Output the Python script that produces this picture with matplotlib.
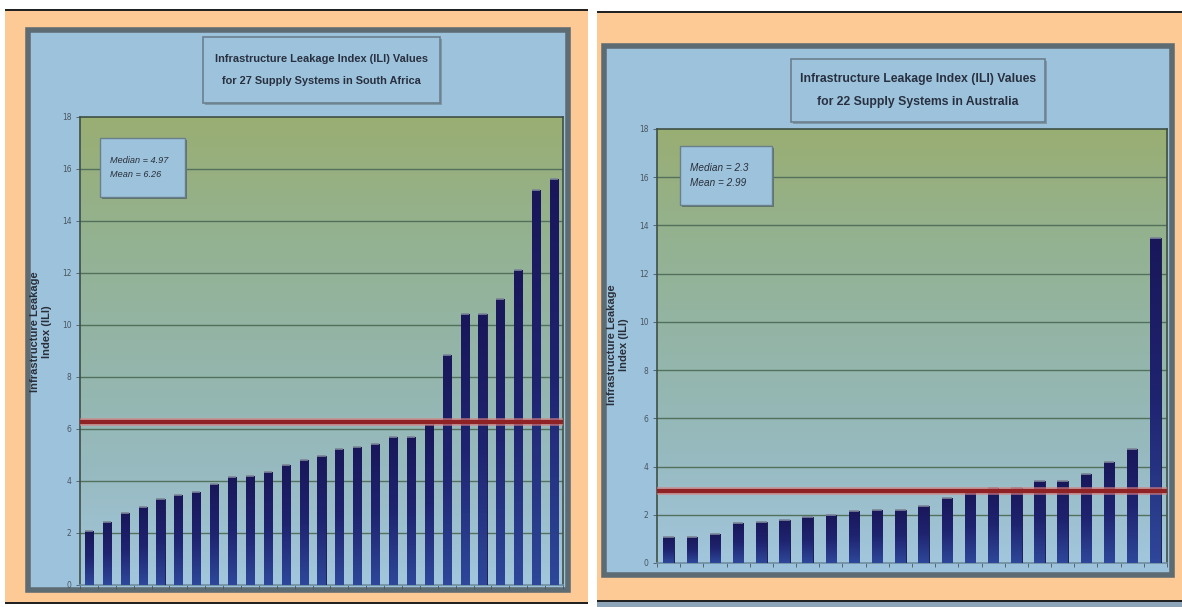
import numpy as np
import matplotlib
matplotlib.use('Agg')
import matplotlib.pyplot as plt
from matplotlib.patches import Rectangle
from matplotlib.colors import LinearSegmentedColormap

# ILI values, sorted, for each country
sa_ili = [2.09, 2.43, 2.76, 3.00, 3.32, 3.45, 3.56, 3.88, 4.15, 4.18, 4.33, 4.60, 4.81, 4.97,
          5.23, 5.32, 5.43, 5.70, 5.70, 6.20, 8.85, 10.41, 10.41, 11.01, 12.12, 15.19, 15.60]
au_ili = [1.06, 1.06, 1.20, 1.65, 1.68, 1.79, 1.90, 1.98, 2.17, 2.20, 2.20, 2.38, 2.69, 2.95,
          3.12, 3.12, 3.39, 3.40, 3.68, 4.17, 4.72, 13.50]
sa_median, sa_mean = 4.97, 6.26
au_median, au_mean = 2.3, 2.99
yticks = [0, 2, 4, 6, 8, 10, 12, 14, 16, 18]

W, H = 1182, 607
PEACH = '#fdc995'
SKY = '#9dc3dc'
FRAME = '#5d6b72'
FONT = ['Liberation Sans', 'DejaVu Sans']

fig = plt.figure(figsize=(W / 100, H / 100), dpi=100)
fig.patch.set_facecolor('white')

bg_cmap = LinearSegmentedColormap.from_list(
    'bg', [(0, '#a2c6dc'), (0.25, '#97bac0'), (0.5, '#93b5a8'), (0.75, '#94b290'), (1, '#9aae73')])
bar_cmap = LinearSegmentedColormap.from_list('bar', ['#2e4799', '#1f2470', '#19175a'])


def rect(x0, y0, x1, y1, **kw):
    # rectangle given in pixel coordinates (origin top left)
    r = Rectangle((x0 / W, 1 - y1 / H), (x1 - x0) / W, (y1 - y0) / H,
                  transform=fig.transFigure, **kw)
    fig.add_artist(r)
    return r


def ftext(x, y, s, **kw):
    fig.text(x / W, 1 - y / H, s, **kw)


def panel(px, frame, title_box, plot_box, stat_box, ylab_xy, values, median, mean, title,
          title_size, title_spacing, stat_size):
    # slide background
    rect(*px, facecolor=PEACH, edgecolor='none', zorder=0)
    # chart frame
    rect(*frame, facecolor=SKY, edgecolor=FRAME, lw=4, zorder=1)

    # title box with a small drop shadow
    x0, y0, x1, y1 = title_box
    rect(x0 + 2, y0 + 2, x1 + 2, y1 + 2, facecolor='#7f98a8', edgecolor='none', zorder=2)
    rect(x0, y0, x1, y1, facecolor=SKY, edgecolor='#6a7f8c', lw=1.2, zorder=3)
    ftext((x0 + x1) / 2, (y0 + y1) / 2, title, ha='center', va='center', fontsize=title_size,
          family=FONT, fontweight='bold', color='#283040', linespacing=title_spacing, zorder=4)

    # y axis title
    ftext(ylab_xy[0], ylab_xy[1], 'Infrastructure Leakage\nIndex (ILI)', rotation=90,
          ha='center', va='center', fontsize=8, fontweight='bold', family=FONT,
          color='#2a2f3a', linespacing=1.2, zorder=4)

    # plot area
    l, t, r, b = plot_box
    ax = fig.add_axes([l / W, 1 - b / H, (r - l) / W, (b - t) / H], zorder=5)
    n = len(values)
    x = np.arange(n)
    ax.imshow(np.linspace(0, 1, 256).reshape(-1, 1), cmap=bg_cmap, origin='lower',
              extent=[-0.5, n - 0.5, 0, 18], aspect='auto', zorder=0, interpolation='bicubic')

    for yv in yticks[1:-1]:
        ax.axhline(yv, color='#52705c', lw=1.0, zorder=1)

    bars = ax.bar(x, values, width=0.45, color='#1c1c62', edgecolor='#15154a', lw=0.6, zorder=3)
    grad = np.linspace(0, 1, 64).reshape(-1, 1)
    for bar, v in zip(bars, values):
        bx = bar.get_x()
        im = ax.imshow(grad, cmap=bar_cmap, origin='lower', aspect='auto',
                       extent=[bx, bx + bar.get_width(), 0, v], zorder=3.5)
        im.set_clip_path(bar)
        ax.plot([bx, bx + bar.get_width()], [v, v], color='#7b8598', lw=1.2,
                solid_capstyle='butt', zorder=3.6)

    # mean line
    ax.axhline(mean, color='#d88080', lw=5.5, alpha=0.7, zorder=4)
    ax.axhline(mean, color='#8e2224', lw=3, zorder=4.1)

    ax.set_xlim(-0.5, n - 0.5)
    ax.set_ylim(0, 18)
    ax.set_yticks(yticks)
    ax.set_xticks(np.arange(n + 1) - 0.5)
    ax.set_xticklabels([])
    ax.tick_params(axis='y', labelsize=5.5, colors='#4a5560', length=3, width=0.6, pad=3)
    ax.tick_params(axis='x', length=3, width=0.6, colors='#4a5560')
    for s in ax.spines.values():
        s.set_color('#3f4f45')
        s.set_linewidth(1.2)
    ax.spines['bottom'].set_color('#6f8ea0')

    # median / mean box inside the plot
    sx0, sy0, sx1, sy1 = stat_box
    rect(sx0 + 2, sy0 + 2, sx1 + 2, sy1 + 2, facecolor='#60736a', edgecolor='none', zorder=6)
    rect(sx0, sy0, sx1, sy1, facecolor=SKY, edgecolor='#6a7f8c', lw=1, zorder=7)
    ftext(sx0 + 10, (sy0 + sy1) / 2, f'Median = {median}\nMean = {mean}', ha='left',
          va='center', fontsize=stat_size, style='italic', family=FONT, color='#2a2f3a',
          linespacing=1.6, zorder=8)
    return ax


panel((5, 11, 588, 603), (28, 30, 568, 590), (203, 37, 440, 103), (80, 117, 563, 585),
      (100, 138, 185, 197), (41, 332), sa_ili, sa_median, sa_mean,
      'Infrastructure Leakage Index (ILI) Values\nfor 27 Supply Systems in South Africa',
      7.9, 2.6, 6.6)
panel((597, 13, 1182, 600), (604, 46, 1172, 575), (791, 59, 1045, 122), (657, 129, 1167, 563),
      (680, 146, 772, 205), (618, 345), au_ili, au_median, au_mean,
      'Infrastructure Leakage Index (ILI) Values\nfor 22 Supply Systems in Australia',
      8.8, 2.15, 7.2)

# slide edge rules
rect(5, 9, 588, 11, facecolor='#222222', edgecolor='none', zorder=9)
rect(5, 602, 588, 604, facecolor='#222222', edgecolor='none', zorder=9)
rect(597, 11, 1182, 13, facecolor='#222222', edgecolor='none', zorder=9)
rect(597, 600, 1182, 602, facecolor='#222222', edgecolor='none', zorder=9)
rect(597, 602, 1182, 607, facecolor='#8ea4b8', edgecolor='none', zorder=9)

fig.savefig('out.png', dpi=100, facecolor=fig.get_facecolor())
